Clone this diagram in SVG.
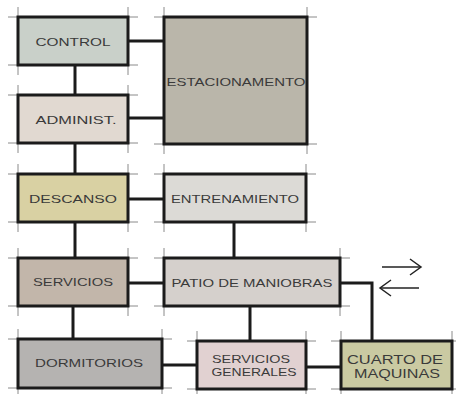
<svg xmlns="http://www.w3.org/2000/svg" width="456" height="394" viewBox="0 0 456 394">
<defs>
<style>
.box{stroke:#1b1b1b;stroke-width:3}
.tick{stroke:#8a8a8a;stroke-width:1;fill:none}
.con{stroke:#1b1b1b;stroke-width:3;fill:none}
.lbl{font-family:"Liberation Sans",Arial,sans-serif;font-size:11px;fill:#3a3a3a;text-anchor:middle}
.arr{stroke:#222;stroke-width:1.5;fill:none}
</style>
<marker id="chev" markerWidth="16" markerHeight="20" refX="12" refY="10" orient="auto" markerUnits="userSpaceOnUse">
<path d="M1,2 L12,10 L1,18" fill="none" stroke="#222" stroke-width="1.5"/>
</marker>
</defs>
<rect width="456" height="394" fill="#ffffff"/>
<g id="connectors">
<path class="con" d="M75,65 V95"/>
<path class="con" d="M128,41 H164"/>
<path class="con" d="M128,118 H164"/>
<path class="con" d="M75,143 V174"/>
<path class="con" d="M128,199 H164"/>
<path class="con" d="M75,222 V258"/>
<path class="con" d="M234,222 V258"/>
<path class="con" d="M128,283 H164"/>
<path class="con" d="M73,306 V339"/>
<path class="con" d="M250,306 V341"/>
<path class="con" d="M340,283 H372 V341"/>
<path class="con" d="M162,365 H197"/>
<path class="con" d="M306,367 H341"/>
<path class="arr" d="M382,267 H421" marker-end="url(#chev)"/>
<path class="arr" d="M419,288 H380" marker-end="url(#chev)"/>
</g>
<g id="control">
<path class="tick" d="M8,17H138M8,65H138M18,7V75M128,7V75"/>
<rect class="box" x="18" y="17" width="110" height="48" fill="#c9d0c9"/>
<text class="lbl" x="73" y="46" textLength="75" lengthAdjust="spacingAndGlyphs">CONTROL</text>
</g>
<g id="administ">
<path class="tick" d="M8,95H138M8,143H138M18,85V153M128,85V153"/>
<rect class="box" x="18" y="95" width="110" height="48" fill="#e1d9d1"/>
<text class="lbl" x="76" y="124" textLength="81" lengthAdjust="spacingAndGlyphs">ADMINIST.</text>
</g>
<g id="estacionamento">
<path class="tick" d="M154,17H317M154,144H317M164,7V154M307,7V154"/>
<rect class="box" x="164" y="17" width="143" height="127" fill="#bab6aa"/>
<text class="lbl" x="236" y="86" textLength="139" lengthAdjust="spacingAndGlyphs">ESTACIONAMENTO</text>
</g>
<g id="descanso">
<path class="tick" d="M8,174H138M8,222H138M18,164V232M128,164V232"/>
<rect class="box" x="18" y="174" width="110" height="48" fill="#d9d1a3"/>
<text class="lbl" x="73" y="203" textLength="88" lengthAdjust="spacingAndGlyphs">DESCANSO</text>
</g>
<g id="entrenamiento">
<path class="tick" d="M154,174H316M154,222H316M164,164V232M306,164V232"/>
<rect class="box" x="164" y="174" width="142" height="48" fill="#dcdad6"/>
<text class="lbl" x="235" y="203" textLength="128" lengthAdjust="spacingAndGlyphs">ENTRENAMIENTO</text>
</g>
<g id="servicios">
<path class="tick" d="M8,258H138M8,306H138M18,248V316M128,248V316"/>
<rect class="box" x="18" y="258" width="110" height="48" fill="#c2b6aa"/>
<text class="lbl" x="73" y="286" textLength="80" lengthAdjust="spacingAndGlyphs">SERVICIOS</text>
</g>
<g id="patio">
<path class="tick" d="M154,258H350M154,306H350M164,248V316M340,248V316"/>
<rect class="box" x="164" y="258" width="176" height="48" fill="#d5d0cc"/>
<text class="lbl" x="252" y="287" textLength="161" lengthAdjust="spacingAndGlyphs">PATIO DE MANIOBRAS</text>
</g>
<g id="dormitorios">
<path class="tick" d="M8,339H172M8,388H172M18,329V394M162,329V394"/>
<rect class="box" x="18" y="339" width="144" height="49" fill="#b5b3b1"/>
<text class="lbl" x="89" y="367" textLength="108" lengthAdjust="spacingAndGlyphs">DORMITORIOS</text>
</g>
<g id="servicios-generales">
<path class="tick" d="M187,341H316M187,389H316M197,331V394M306,331V394"/>
<rect class="box" x="197" y="341" width="109" height="48" fill="#e1d1d1"/>
<text class="lbl" x="251" y="363" textLength="78" lengthAdjust="spacingAndGlyphs">SERVICIOS</text>
<text class="lbl" x="254" y="376" textLength="85" lengthAdjust="spacingAndGlyphs">GENERALES</text>
</g>
<g id="cuarto">
<path class="tick" d="M331,341H456M331,389H456M341,331V394M452,331V394"/>
<rect class="box" x="341" y="341" width="111" height="48" fill="#cacaa2"/>
<text class="lbl" x="395" y="364" textLength="96" lengthAdjust="spacingAndGlyphs" style="font-size:13px">CUARTO DE</text>
<text class="lbl" x="397" y="378" textLength="86" lengthAdjust="spacingAndGlyphs" style="font-size:13px">MAQUINAS</text>
</g>
</svg>
